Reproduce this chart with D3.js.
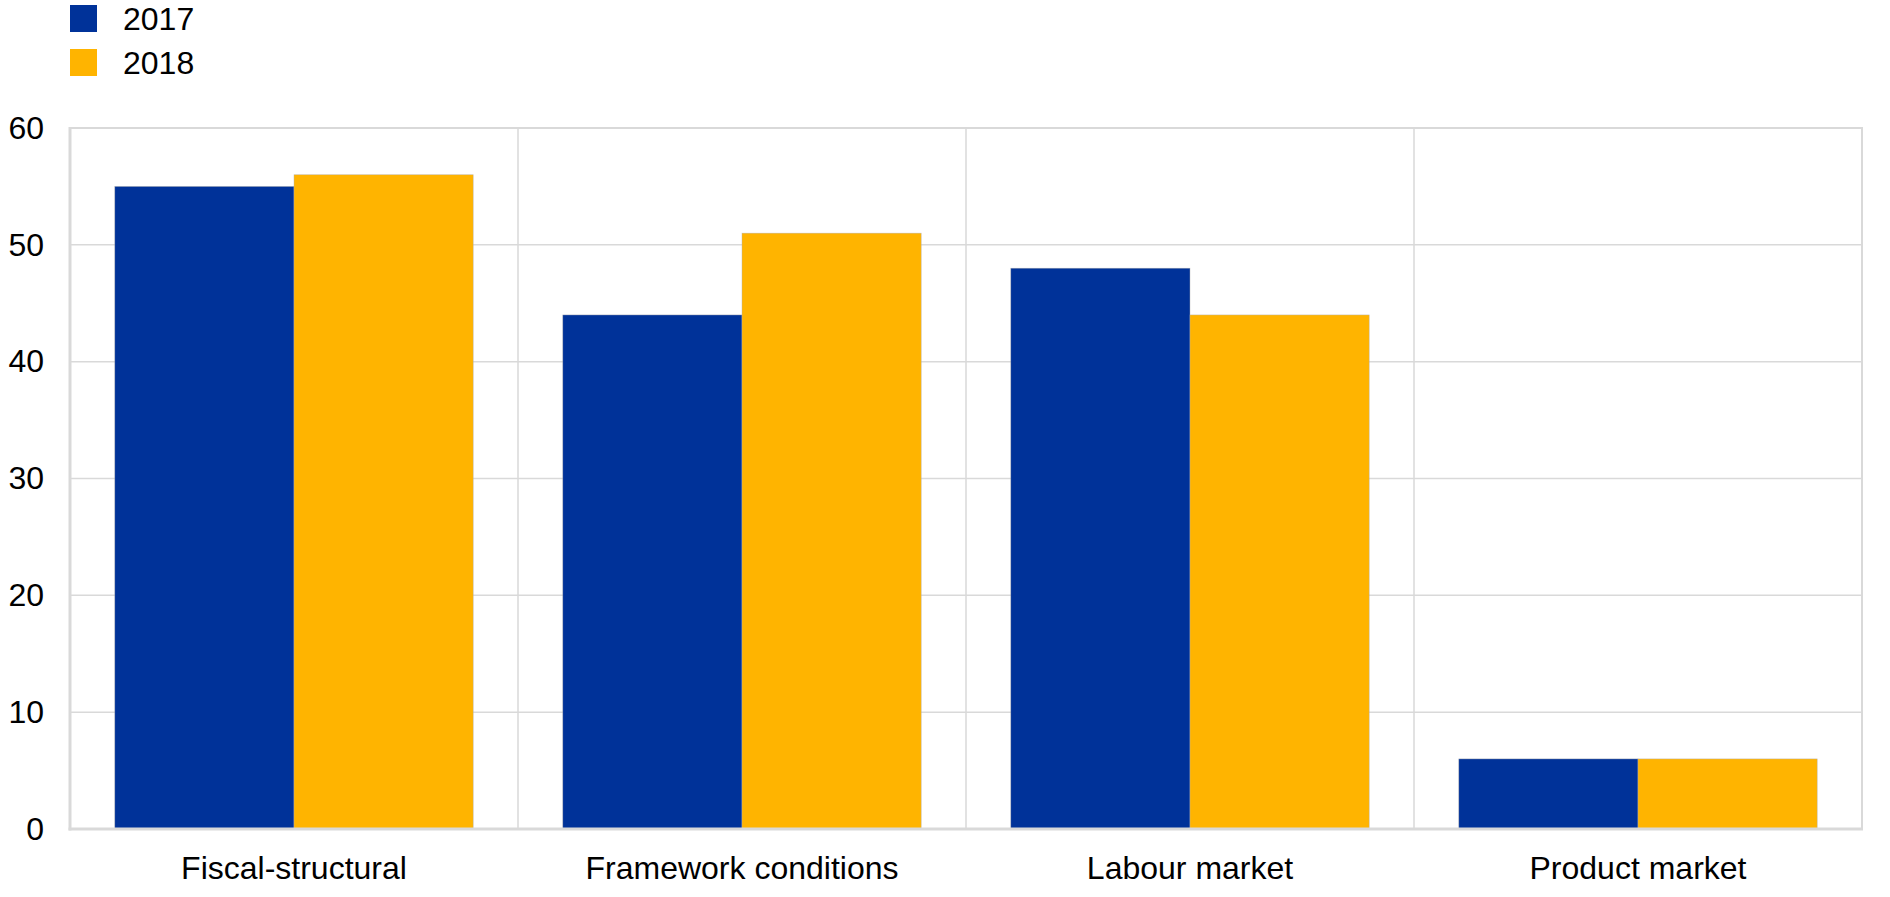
<!DOCTYPE html>
<html>
<head>
<meta charset="utf-8">
<script src="https://cdn.jsdelivr.net/npm/d3@7"></script>
<style>
  html, body { margin: 0; padding: 0; background: #fff; }
  svg { display: block; font-family: "Liberation Sans", Arial, sans-serif; }
</style>
</head>
<body>
<svg id="chart" width="1890" height="897"></svg>
<script>
const categories = ["Fiscal-structural", "Framework conditions", "Labour market", "Product market"];
const seriesNames = ["2017", "2018"];
const values2017 = [55, 44, 48, 6];
const values2018 = [56, 51, 44, 6];
const yTicks = [0, 10, 20, 30, 40, 50, 60];
const colors = ["#003299", "#FFB400"];

(function () {
const seriesValues = [values2017, values2018];
const svg = d3.select("#chart");
const pLeft = 70, pRight = 1862, pTop = 128, pBottom = 829;

const x0 = d3.scaleBand().domain(categories).range([pLeft, pRight]).padding(0);
const bw = x0.bandwidth();
const x1 = d3.scaleBand().domain(seriesNames).range([bw * 0.1, bw * 0.9]).padding(0);
const y = d3.scaleLinear().domain([0, 60]).range([pBottom, pTop]);

// horizontal gridlines
svg.append("g").selectAll("line").data(yTicks.filter(t => t > 0 && t < 60)).join("line")
  .attr("x1", pLeft).attr("x2", pRight)
  .attr("y1", d => y(d)).attr("y2", d => y(d))
  .attr("stroke", "#d9d9d9").attr("stroke-width", 1.5);

// vertical gridlines between categories
svg.append("g").selectAll("line").data(categories.slice(1)).join("line")
  .attr("x1", d => x0(d)).attr("x2", d => x0(d))
  .attr("y1", pTop).attr("y2", pBottom)
  .attr("stroke", "#d9d9d9").attr("stroke-width", 1.5);

// frame
svg.append("rect").attr("x", pLeft).attr("y", pTop)
  .attr("width", pRight - pLeft).attr("height", pBottom - pTop)
  .attr("fill", "none").attr("stroke", "#d9d9d9").attr("stroke-width", 2);

// bars
const groups = svg.append("g").selectAll("g").data(categories).join("g")
  .attr("transform", d => `translate(${x0(d)},0)`);
groups.selectAll("rect")
  .data((c, i) => seriesNames.map((s, j) => ({ s, v: seriesValues[j][i], j })))
  .join("rect")
  .attr("x", d => x1(d.s))
  .attr("width", x1.bandwidth())
  .attr("y", d => y(d.v))
  .attr("height", d => y(0) - y(d.v))
  .attr("fill", d => colors[d.j])
  .attr("stroke", "#b0b0b0").attr("stroke-width", 0.6).attr("stroke-opacity", 0.7);

// left & bottom axis lines (thicker)
svg.append("line").attr("x1", pLeft).attr("x2", pLeft).attr("y1", pTop - 1).attr("y2", pBottom + 1.5)
  .attr("stroke", "#d9d9d9").attr("stroke-width", 3);
svg.append("line").attr("x1", pLeft - 1.5).attr("x2", pRight + 1).attr("y1", pBottom).attr("y2", pBottom)
  .attr("stroke", "#d9d9d9").attr("stroke-width", 3);

// y axis labels
const yAxis = d3.axisLeft(y).tickValues(yTicks).tickSize(0).tickPadding(26);
const ya = svg.append("g").attr("transform", `translate(${pLeft},0)`).call(yAxis);
ya.select(".domain").remove();
ya.selectAll("text").attr("font-size", 32).attr("fill", "#000")
  .attr("font-family", "'Liberation Sans', Arial, sans-serif");

// x axis labels
const xAxis = d3.axisBottom(x0).tickSize(0).tickPadding(27);
const xa = svg.append("g").attr("transform", `translate(0,${pBottom})`).call(xAxis);
xa.select(".domain").remove();
xa.selectAll("text").attr("font-size", 32).attr("fill", "#000")
  .attr("font-family", "'Liberation Sans', Arial, sans-serif");

// legend
const legend = svg.append("g").selectAll("g").data(seriesNames).join("g")
  .attr("transform", (d, i) => `translate(70,${5 + i * 44})`);
legend.append("rect").attr("width", 27).attr("height", 27)
  .attr("fill", (d, i) => colors[i]);
legend.append("text").attr("x", 53).attr("y", 25)
  .attr("font-size", 32).attr("fill", "#000").text(d => d);
})();
</script>
</body>
</html>
